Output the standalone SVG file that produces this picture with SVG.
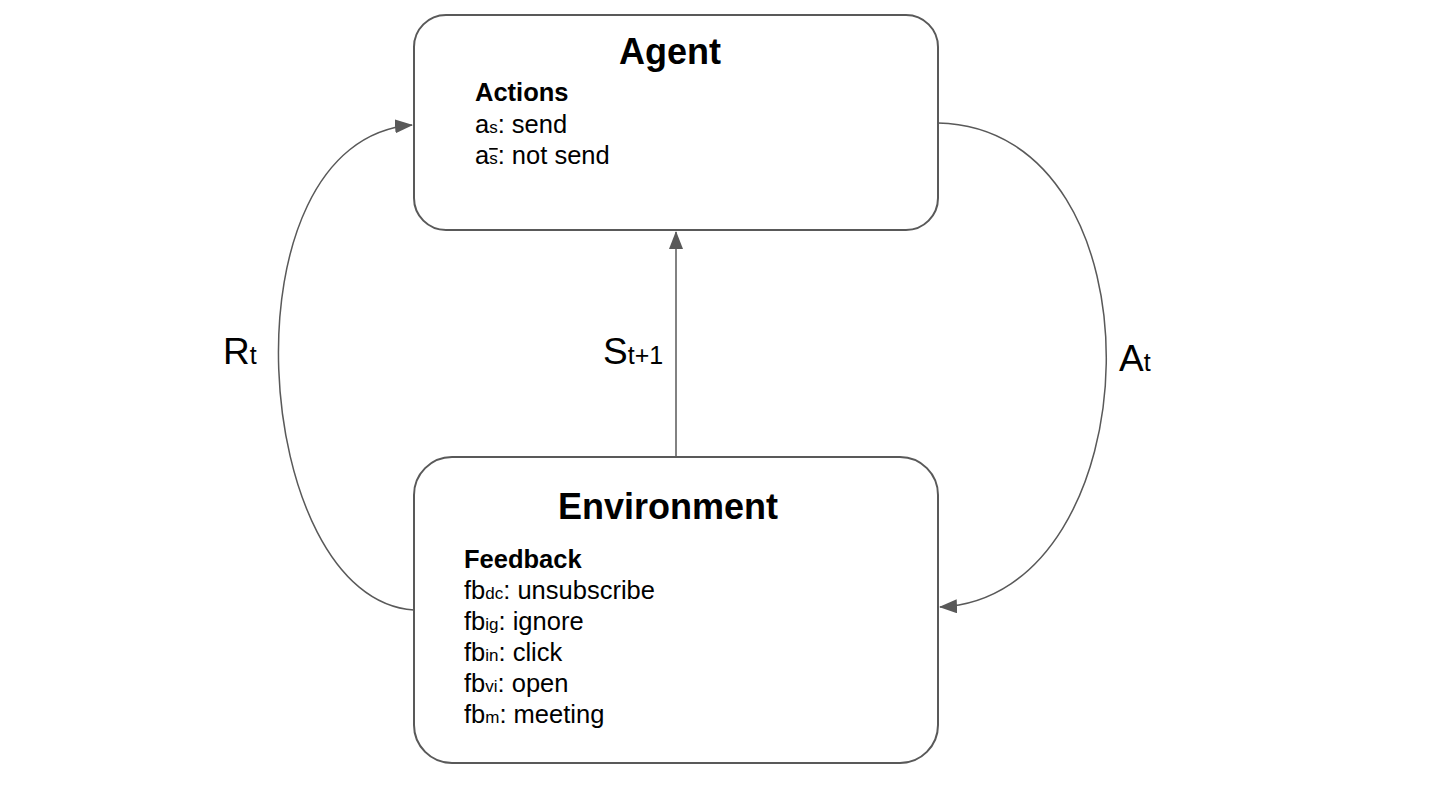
<svg xmlns="http://www.w3.org/2000/svg" width="1432" height="790" viewBox="0 0 1432 790">
<defs>
<marker id="ah" viewBox="0 0 18 14" refX="17" refY="7" markerWidth="18" markerHeight="14" markerUnits="userSpaceOnUse" orient="auto">
<path d="M0,0 L18,7 L0,14 z" fill="#595959"/>
</marker>
<style>
.box{fill:#fff;stroke:#595959;stroke-width:2}
.con{fill:none;stroke:#595959;stroke-width:1.5}
text{font-family:"Liberation Sans",Arial,sans-serif;fill:#000}
.title{font-size:36px;font-weight:bold}
.head{font-size:25.5px;font-weight:bold}
.item{font-size:25.5px}
.sub{font-size:17px}
.lab{font-size:37px}
.labsub{font-size:25px}
</style>
</defs>
<rect width="1432" height="790" fill="#fff"/>
<g id="connectors">
<path class="con" d="M414,610 C250,600 218,140 412,125" marker-end="url(#ah)"/>
<path class="con" d="M938,123 C1170,128 1154,598 940,607" marker-end="url(#ah)"/>
<path class="con" d="M676,457 L676,232" marker-end="url(#ah)"/>
</g>
<g id="agent">
<rect class="box" x="414" y="15" width="524" height="215" rx="32"/>
<text class="title" x="670" y="64" text-anchor="middle">Agent</text>
<text class="head" x="475" y="101">Actions</text>
<text class="item" x="475" y="133">a<tspan class="sub">s</tspan>: send</text>
<text class="item" x="475" y="164">a<tspan class="sub" text-decoration="overline">s</tspan>: not send</text>
</g>
<g id="environment">
<rect class="box" x="414" y="457" width="524" height="306" rx="38"/>
<text class="title" x="668" y="519" text-anchor="middle">Environment</text>
<text class="head" x="464" y="568">Feedback</text>
<text class="item" x="464" y="599">fb<tspan class="sub">dc</tspan>: unsubscribe</text>
<text class="item" x="464" y="630">fb<tspan class="sub">ig</tspan>: ignore</text>
<text class="item" x="464" y="661">fb<tspan class="sub">in</tspan>: click</text>
<text class="item" x="464" y="692">fb<tspan class="sub">vi</tspan>: open</text>
<text class="item" x="464" y="723">fb<tspan class="sub">m</tspan>: meeting</text>
</g>
<g id="labels">
<text class="lab" x="223" y="364">R<tspan class="labsub">t</tspan></text>
<text class="lab" x="603" y="364">S<tspan class="labsub">t+1</tspan></text>
<text class="lab" x="1119" y="371">A<tspan class="labsub">t</tspan></text>
</g>
</svg>
